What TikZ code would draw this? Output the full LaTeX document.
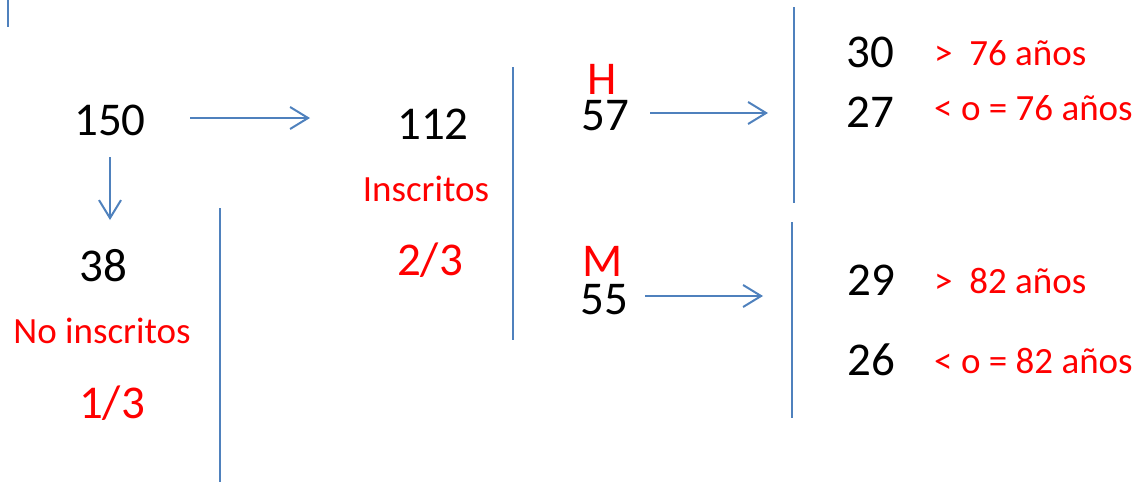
\documentclass[tikz,border=0pt]{standalone}
\usepackage{fontspec}
\setmainfont{Carlito}
\usetikzlibrary{arrows.meta}
\definecolor{lineblue}{HTML}{4F81BD}
\definecolor{labred}{HTML}{FF0000}
\tikzset{
  big/.style={inner sep=0pt, font=\fontsize{47}{52}\selectfont, text=black},
  bigred/.style={big, text=labred},
  lab/.style={inner sep=0pt, font=\fontsize{37}{42}\selectfont, text=labred},
  rule/.style={draw=lineblue, line width=2pt},
  arr/.style={draw=lineblue, line width=2pt, -{Straight Barb[length=18pt, width=22pt, line width=2pt]}}
}
\begin{document}
\begin{tikzpicture}[x=1pt, y=-1pt]
\useasboundingbox (0,0) rectangle (1143,482);
% separator lines
\draw[rule] (8,0) -- (8,27);
\draw[rule] (220,208) -- (220,482);
\draw[rule] (513,67) -- (513,340);
\draw[rule] (794,7) -- (794,203);
\draw[rule] (792,222) -- (792,418);
% numbers and labels
\node[big, anchor=base] (n150) at (110,135) {150};
\node[big, anchor=base] (n38) at (103,281) {38};
\node[lab, anchor=base] (noins) at (102,343) {No inscritos};
\node[bigred, anchor=base] (t13) at (112,418) {1/3};
\node[big, anchor=base] (n112) at (433,139) {112};
\node[lab, anchor=base] (ins) at (426,201) {Inscritos};
\node[bigred, anchor=base] (t23) at (430,275) {2/3};
\node[bigred, anchor=base] (H) at (602,94) {H};
\node[big, anchor=base] (n57) at (605,130) {57};
\node[bigred, anchor=base] (M) at (603,276) {M};
\node[big, anchor=base] (n55) at (604,314) {55};
\node[big, anchor=base] (n30) at (870,67) {30};
\node[lab, anchor=base west] (g76) at (934,65) {>\ \ 76 años};
\node[big, anchor=base] (n27) at (870,127) {27};
\node[lab, anchor=base west] (l76) at (934,120) {< o = 76 años};
\node[big, anchor=base] (n29) at (871,295) {29};
\node[lab, anchor=base west] (g82) at (934,293) {>\ \ 82 años};
\node[big, anchor=base] (n26) at (871,375) {26};
\node[lab, anchor=base west] (l82) at (934,373) {< o = 82 años};
% arrow ends
\coordinate (a1s) at (190,118);
\coordinate (a1e) at (310,118);
\coordinate (a2s) at (110,157);
\coordinate (a2e) at (110,220);
\coordinate (a3s) at (650,113);
\coordinate (a3e) at (768,113);
\coordinate (a4s) at (645,296);
\coordinate (a4e) at (763,296);
\draw[arr] (a1s) -- (a1e);
\draw[arr] (a2s) -- (a2e);
\draw[arr] (a3s) -- (a3e);
\draw[arr] (a4s) -- (a4e);
\end{tikzpicture}
\end{document}
